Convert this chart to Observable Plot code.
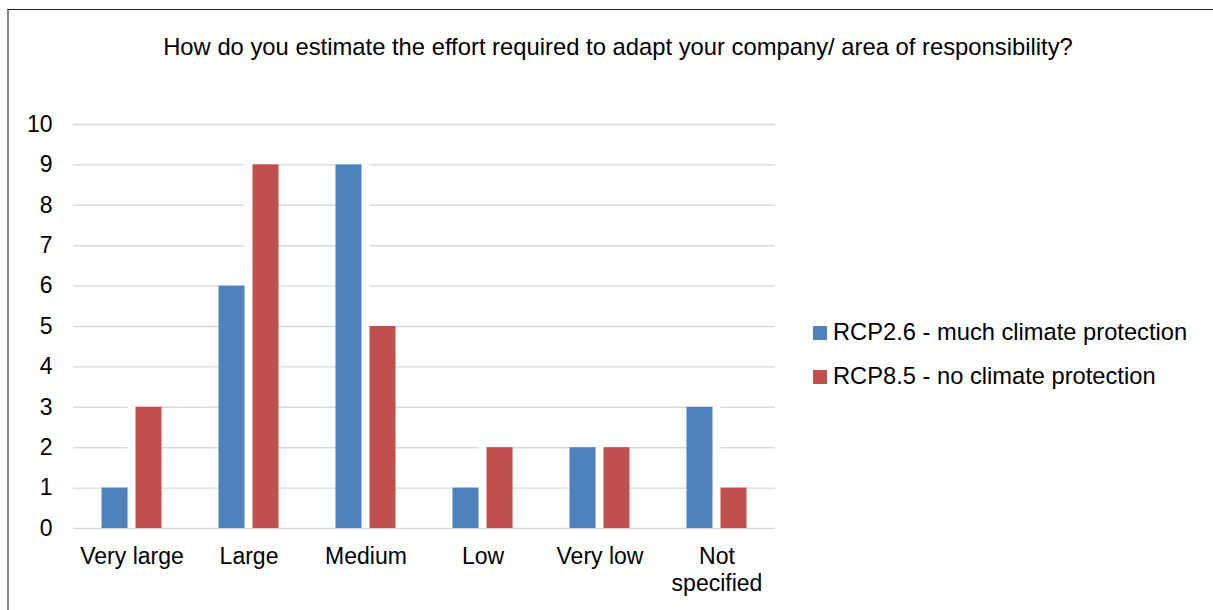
<!DOCTYPE html>
<html>
<head>
<meta charset="utf-8">
<script src="https://cdn.jsdelivr.net/npm/d3@7"></script>
<script src="https://cdn.jsdelivr.net/npm/@observablehq/plot@0.6"></script>
<style>
  body { margin: 0; background: #fff; font-family: "Liberation Sans", Arial, sans-serif; color: #000; }
  #wrap { position: relative; width: 1213px; height: 610px; overflow: hidden; background: #fff; }
  #chart { position: absolute; left: 0; top: 80px; }
  #title { position: absolute; left: 0; top: 35px; width: 1236px; text-align: center; font-size: 23.8px; line-height: 1; white-space: nowrap; }
  #legend { position: absolute; left: 813px; top: 311px; }
  .item { display: flex; align-items: center; height: 44px; font-size: 23.7px; line-height: 1; white-space: nowrap; }
  .swatch { width: 14px; height: 14px; margin-right: 6px; flex: none; }
  #frame { position: absolute; left: 7px; top: 9px; width: 1300px; height: 700px; border-left: 2px solid #868686; border-top: 1px solid #1a1a1a; box-sizing: border-box; }
</style>
</head>
<body>
<div id="wrap">
  <div id="chart"></div>
  <div id="title"></div>
  <div id="legend"></div>
  <div id="frame"></div>
</div>
<script>
// Survey answers: number of respondents per effort level, for two climate scenarios
const titleText = "How do you estimate the effort required to adapt your company/ area of responsibility?";
const categories = ["Very large", "Large", "Medium", "Low", "Very low", "Not specified"];
const categoryLabels = ["Very large", "Large", "Medium", "Low", "Very low", "Not\nspecified"];
const seriesNames = ["RCP2.6 - much climate protection", "RCP8.5 - no climate protection"];
const seriesColors = ["#4f81bd", "#c0504d"];
const rcp26 = [1, 6, 9, 1, 2, 3];
const rcp85 = [3, 9, 5, 2, 2, 1];
const yTicks = [0, 1, 2, 3, 4, 5, 6, 7, 8, 9, 10];

const rows26 = categories.map((c, i) => ({category: c, value: rcp26[i]}));
const rows85 = categories.map((c, i) => ({category: c, value: rcp85[i]}));
// white fill between the paired bars, as tall as the taller of the two
const gapRows = categories.map((c, i) => ({category: c, value: Math.max(rcp26[i], rcp85[i])}));

const labelOf = new Map(categories.map((c, i) => [c, categoryLabels[i]]));

const chart = Plot.plot({
  width: 800,
  height: 530,
  marginLeft: 73,
  marginRight: 25,
  marginTop: 44,
  marginBottom: 82,
  style: {
    fontFamily: "'Liberation Sans', Arial, sans-serif",
    fontSize: "23px",
    color: "#000",
    background: "transparent",
    overflow: "visible"
  },
  x: {domain: categories, paddingInner: 0.487, paddingOuter: 0.2436, align: 0.5, round: false, label: null},
  y: {domain: [0, 10], label: null},
  marks: [
    Plot.gridY(yTicks, {stroke: "#d9d9d9", strokeOpacity: 1, strokeWidth: 1.4}),
    Plot.barY(gapRows, {x: "category", y: "value", fill: "#fff", insetLeft: 26, insetRight: 26}),
    Plot.barY(rows26, {x: "category", y: "value", fill: seriesColors[0], insetRight: 34}),
    Plot.barY(rows85, {x: "category", y: "value", fill: seriesColors[1], insetLeft: 34}),
    Plot.axisY(yTicks, {tickSize: 0, tickPadding: 21, fontSize: 23, label: null}),
    Plot.axisX({tickSize: 0, tickPadding: 16, fontSize: 23, lineHeight: 1.17, label: null,
                tickFormat: d => labelOf.get(d)})
  ]
});
document.getElementById("chart").append(chart);

document.getElementById("title").textContent = titleText;

const legend = document.getElementById("legend");
seriesNames.forEach((name, i) => {
  const item = document.createElement("div");
  item.className = "item";
  const sw = document.createElement("span");
  sw.className = "swatch";
  sw.style.background = seriesColors[i];
  const label = document.createElement("span");
  label.textContent = name;
  item.append(sw, label);
  legend.append(item);
});
</script>
</body>
</html>
